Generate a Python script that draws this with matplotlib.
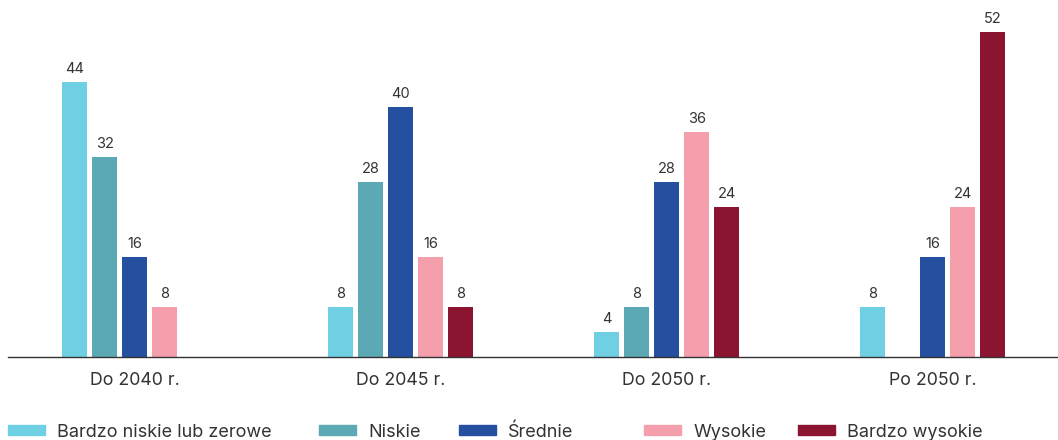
import numpy as np
import matplotlib.pyplot as plt
from matplotlib.patches import Patch

plt.rcParams['font.family'] = ['Inter', 'DejaVu Sans']

categories = ['Do 2040 r.', 'Do 2045 r.', 'Do 2050 r.', 'Po 2050 r.']
series = ['Bardzo niskie lub zerowe', 'Niskie', 'Średnie', 'Wysokie', 'Bardzo wysokie']
values = [
    [44, 8, 4, 8],
    [32, 28, 8, None],
    [16, 40, 28, 16],
    [8, 16, 36, 24],
    [None, 8, 24, 52],
]
colors = ['#6fcfe3', '#5aa9b5', '#24509f', '#f59fad', '#8b1530']

# left edge of each legend entry, in pixels
legend_x = [8, 319, 459, 644, 798]

fig = plt.figure(figsize=(10.58, 4.4), dpi=100)
ax = fig.add_axes([8 / 1058, 83 / 440, 1050 / 1058, 357 / 440])

x = np.arange(len(categories))
step = 0.1128
width = 0.094
for i, (name, vals) in enumerate(zip(series, values)):
    pos = x + (i - 2) * step
    for p, v in zip(pos, vals):
        if v is None:
            continue
        ax.bar(p, v, width=width, color=colors[i])
        ax.text(p, v + 0.9, str(v), ha='center', va='bottom', fontsize=10.5, color='#333333')

ax.set_xlim(-0.477, 3.47)
ax.set_ylim(0, 57.1)
ax.set_xticks(x)
ax.set_xticklabels(categories, fontsize=12.8, color='#333333')
ax.tick_params(axis='x', length=0, pad=11)
ax.set_yticks([])
for s in ['top', 'right', 'left']:
    ax.spines[s].set_visible(False)
ax.spines['bottom'].set_color('#333333')
ax.spines['bottom'].set_linewidth(1)

for c, n, lx in zip(colors, series, legend_x):
    fig.legend(handles=[Patch(color=c, label=n)], loc='center left',
               bbox_to_anchor=(lx / 1058, 8 / 440), frameon=False, fontsize=13,
               handlelength=2.05, handleheight=0.45, handletextpad=0.67,
               borderaxespad=0, borderpad=0, labelcolor='#333333')

fig.savefig('out.png', dpi=100)
